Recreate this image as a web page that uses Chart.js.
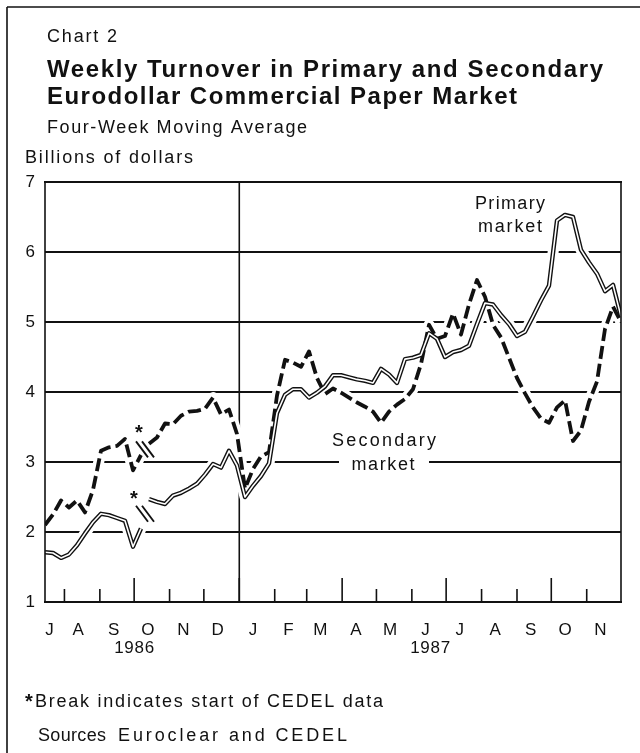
<!DOCTYPE html>
<html>
<head>
<meta charset="utf-8">
<script src="https://cdn.jsdelivr.net/npm/chart.js@4.4.0/dist/chart.umd.min.js"></script>
<style>
  html, body { margin: 0; padding: 0; background: #fff; }
  #wrap { width: 640px; height: 753px; position: relative; }
</style>
</head>
<body>
<div id="wrap"><canvas id="turnover"></canvas></div>
<script>
// weekly readings (Tuesdays), four-week moving average, billions of dollars
const weeks = [
  '1986-07-15', '1986-07-22', '1986-07-29',
  '1986-08-05', '1986-08-12', '1986-08-19', '1986-08-26',
  '1986-09-02', '1986-09-09', '1986-09-16', '1986-09-23', '1986-09-30',
  '1986-10-07', '1986-10-14', '1986-10-21', '1986-10-28',
  '1986-11-04', '1986-11-11', '1986-11-18', '1986-11-25',
  '1986-12-02', '1986-12-09', '1986-12-16', '1986-12-23', '1986-12-30',
  '1987-01-06', '1987-01-13', '1987-01-20', '1987-01-27',
  '1987-02-03', '1987-02-10', '1987-02-17', '1987-02-24',
  '1987-03-03', '1987-03-10', '1987-03-17', '1987-03-24', '1987-03-31',
  '1987-04-07', '1987-04-14', '1987-04-21', '1987-04-28',
  '1987-05-05', '1987-05-12', '1987-05-19', '1987-05-26',
  '1987-06-02', '1987-06-09', '1987-06-16', '1987-06-23', '1987-06-30',
  '1987-07-07', '1987-07-14', '1987-07-21', '1987-07-28',
  '1987-08-04', '1987-08-11', '1987-08-18', '1987-08-25',
  '1987-09-01', '1987-09-08', '1987-09-15', '1987-09-22', '1987-09-29',
  '1987-10-06', '1987-10-13', '1987-10-20', '1987-10-27',
  '1987-11-03', '1987-11-10', '1987-11-17', '1987-11-24', '1987-12-01'
]

const primary = [
  1.71, 1.70, 1.63, 1.68, 1.81, 1.98, 2.14, 2.26, 2.24, 2.20,
  2.16, 1.79, 2.05, 2.47, 2.43, 2.40, 2.52, 2.56, 2.62, 2.69,
  2.82, 2.97, 2.92, 3.16, 2.95, 2.50, 2.66, 2.80, 2.98, 3.70,
  3.96, 4.04, 4.04, 3.92, 3.99, 4.08, 4.24, 4.24, 4.21, 4.18,
  4.16, 4.13, 4.33, 4.25, 4.13, 4.47, 4.49, 4.53, 4.84, 4.76,
  4.50, 4.57, 4.60, 4.66, 4.97, 5.27, 5.25, 5.10, 4.97, 4.80,
  4.86, 5.08, 5.31, 5.52, 6.45, 6.53, 6.50, 6.03, 5.85, 5.69,
  5.44, 5.53, 5.08
]

const secondary = [
  2.10, 2.25, 2.45, 2.35, 2.45, 2.28, 2.60, 3.16, 3.21, 3.23,
  3.33, 2.88, 3.10, 3.26, 3.35, 3.55, 3.54, 3.66, 3.72, 3.73,
  3.76, 3.92, 3.68, 3.75, 3.40, 2.62, 2.90, 3.08, 3.14, 3.95,
  4.46, 4.42, 4.36, 4.58, 4.20, 3.97, 4.05, 3.99, 3.92, 3.85,
  3.79, 3.72, 3.56, 3.72, 3.82, 3.90, 4.04, 4.40, 4.96, 4.76,
  4.80, 5.12, 4.82, 5.25, 5.60, 5.36, 4.96, 4.78, 4.49, 4.20,
  3.98, 3.78, 3.62, 3.56, 3.78, 3.88, 3.30, 3.45, 3.86, 4.15,
  4.90, 5.22, 5.00
]

// CEDEL data start: the lines break between these two weeks
const breakAfter = 12

const monthLabels = ['J', 'A', 'S', 'O', 'N', 'D', 'J', 'F', 'M', 'A', 'M', 'J', 'J', 'A', 'S', 'O', 'N']
const yearLabels = ['1986', '1987']
const yTicks = [1, 2, 3, 4, 5, 6, 7]

const ink = '#111'
const FONT = '"Liberation Sans", Arial, Helvetica, sans-serif'

const dayOf = s => (Date.parse(s + 'T00:00:00Z') - Date.parse('1986-07-01T00:00:00Z')) / 864e5
const xs = weeks.map(dayOf)
const pts = vals => vals.map((v, i) => ({ x: xs[i], y: v }))

// month starts Aug 1986 .. Dec 1987
const monthStarts = []
for (let k = 1; k <= 17; k++) monthStarts.push(Date.UTC(1986, 6 + k, 1) / 864e5 - Date.UTC(1986, 6, 1) / 864e5)
const labelDays = monthLabels.map((m, k) => {
  const start = k === 0 ? 0 : monthStarts[k - 1]
  return Math.max(start + 12, xs[0] + 4)
})

const hideBreak = { borderColor: c => c.p0DataIndex === breakAfter ? 'rgba(0,0,0,0)' : undefined }

function say(ctx, s, x, y, font, width, align) {
  ctx.save()
  ctx.font = font
  ctx.fillStyle = ink
  ctx.textBaseline = 'middle'
  ctx.textAlign = 'left'
  const w = ctx.measureText(s).width
  let sp = 0
  if (width && s.length > 1) sp = (width - w) / (s.length - 1)
  ctx.letterSpacing = sp + 'px'
  const full = width || w
  const left = align === 'center' ? x - full / 2 : x
  ctx.fillText(s, left, y)
  ctx.restore()
}

function seg(ctx, x1, y1, x2, y2, lw) {
  ctx.save()
  ctx.strokeStyle = ink
  ctx.lineWidth = lw
  ctx.beginPath()
  ctx.moveTo(x1, y1)
  ctx.lineTo(x2, y2)
  ctx.stroke()
  ctx.restore()
}

const decor = {
  id: 'decor',
  beforeDatasetsDraw(chart) {
    const { ctx, chartArea: a, scales: { x } } = chart
    const jx = x.getPixelForValue(dayOf('1987-01-01'))
    seg(ctx, jx, a.top, jx, a.bottom, 1.6)
  },
  afterDatasetsDraw(chart) {
    const { ctx, chartArea: a, scales: { x, y } } = chart

    // plot frame
    seg(ctx, a.left - 1, a.top, a.right + 1, a.top, 2)
    seg(ctx, a.left - 1, a.bottom, a.right + 1, a.bottom, 2)
    seg(ctx, a.left, a.top, a.left, a.bottom, 1.6)
    seg(ctx, a.right, a.top, a.right, a.bottom, 1.6)

    // month ticks, taller at quarter starts
    monthStarts.forEach((d, k) => {
      const px = x.getPixelForValue(d)
      if (px > a.right - 2) return
      const tall = k % 3 === 2
      seg(ctx, px, a.bottom, px, a.bottom - (tall ? 24 : 13), 1.6)
    })

    // break marks and asterisks
    const marks = [
      { vals: secondary, star: [-6, -20] },
      { vals: primary, star: [-11, -18] }
    ]
    marks.forEach(m => {
      const x0 = x.getPixelForValue(xs[breakAfter]), y0 = y.getPixelForValue(m.vals[breakAfter])
      const x1 = x.getPixelForValue(xs[breakAfter + 1]), y1 = y.getPixelForValue(m.vals[breakAfter + 1])
      const cx = (x0 + x1) / 2, cy = (y0 + y1) / 2
      ;[-3, 3].forEach(o => {
        seg(ctx, cx + o - 6, cy - 8, cx + o + 6, cy + 8, 1.8)
      })
      say(ctx, '*', cx + m.star[0], cy + m.star[1] + 4, 'bold 20px ' + FONT, 0, 'center')
    })

    // series labels
    say(ctx, 'Primary', 510, 204, '18px ' + FONT, 70, 'center')
    say(ctx, 'market', 510, 227, '18px ' + FONT, 64, 'center')
    say(ctx, 'Secondary', 384, 441, '18px ' + FONT, 104, 'center')
    ctx.save()
    ctx.fillStyle = '#fff'
    ctx.fillRect(339, 456, 90, 18)
    ctx.restore()
    say(ctx, 'market', 383, 465, '18px ' + FONT, 63, 'center')
  },
  afterDraw(chart) {
    const { ctx, scales: { x } } = chart

    // page frame
    seg(ctx, 7, 7, 640, 7, 1.6)
    seg(ctx, 7, 7, 7, 753, 1.6)

    say(ctx, 'Chart 2', 47, 37, '18px ' + FONT, 70)
    say(ctx, 'Weekly Turnover in Primary and Secondary', 47, 70, 'bold 24px ' + FONT, 556)
    say(ctx, 'Eurodollar Commercial Paper Market', 47, 97, 'bold 24px ' + FONT, 470)
    say(ctx, 'Four-Week Moving Average', 47, 128, '18px ' + FONT, 260)
    say(ctx, 'Billions of dollars', 25, 158, '18px ' + FONT, 168)

    say(ctx, yearLabels[0], x.getPixelForValue(dayOf('1986-10-01')), 648, '17px ' + FONT, 40, 'center')
    say(ctx, yearLabels[1], x.getPixelForValue(dayOf('1987-06-17')), 648, '17px ' + FONT, 40, 'center')

    say(ctx, '*', 29, 702, 'bold 20px ' + FONT, 0, 'center')
    say(ctx, 'Break indicates start of CEDEL data', 35, 702, '18px ' + FONT, 348)
    say(ctx, 'Sources', 38, 736, '18px ' + FONT, 68)
    say(ctx, 'Euroclear and CEDEL', 118, 736, '18px ' + FONT, 229)
  }
}

const line = (data, color, width, extra) => Object.assign({
  data: pts(data),
  borderColor: color,
  borderWidth: width,
  pointRadius: 0,
  tension: 0,
  borderJoinStyle: 'round',
  fill: false
}, extra)

new Chart(document.getElementById('turnover'), {
  type: 'line',
  data: {
    datasets: [
      line(primary, '#fff', 1.6, { order: 1, segment: hideBreak }),
      line(primary, ink, 4.4, { order: 2, segment: hideBreak }),
      line(secondary, ink, 3.8, { order: 3, borderDash: [13, 5], segment: hideBreak }),
      line(primary, '#fff', 11, { order: 4 }),
      line(secondary, '#fff', 11, { order: 5 })
    ]
  },
  options: {
    responsive: true,
    maintainAspectRatio: false,
    animation: false,
    layout: { padding: { top: 182, right: 19, left: 0, bottom: 0 } },
    plugins: { legend: { display: false }, tooltip: { enabled: false } },
    scales: {
      x: {
        type: 'linear',
        min: xs[0],
        max: xs[xs.length - 1],
        grid: { display: false },
        border: { display: false },
        afterBuildTicks: s => { s.ticks = labelDays.map(v => ({ value: v })) },
        afterFit: s => { s.height = 151 },
        ticks: {
          autoSkip: false,
          maxRotation: 0,
          padding: 10,
          color: ink,
          font: { family: FONT, size: 17 },
          callback: (v, i) => monthLabels[i]
        }
      },
      y: {
        min: 1,
        max: 7,
        afterBuildTicks: s => { s.ticks = yTicks.map(v => ({ value: v })) },
        afterFit: s => { s.width = 45 },
        grid: { color: ink, lineWidth: 2, drawTicks: false },
        border: { display: false },
        ticks: {
          padding: 10,
          color: ink,
          font: { family: FONT, size: 17 }
        }
      }
    }
  },
  plugins: [decor]
})
</script>
</body>
</html>
